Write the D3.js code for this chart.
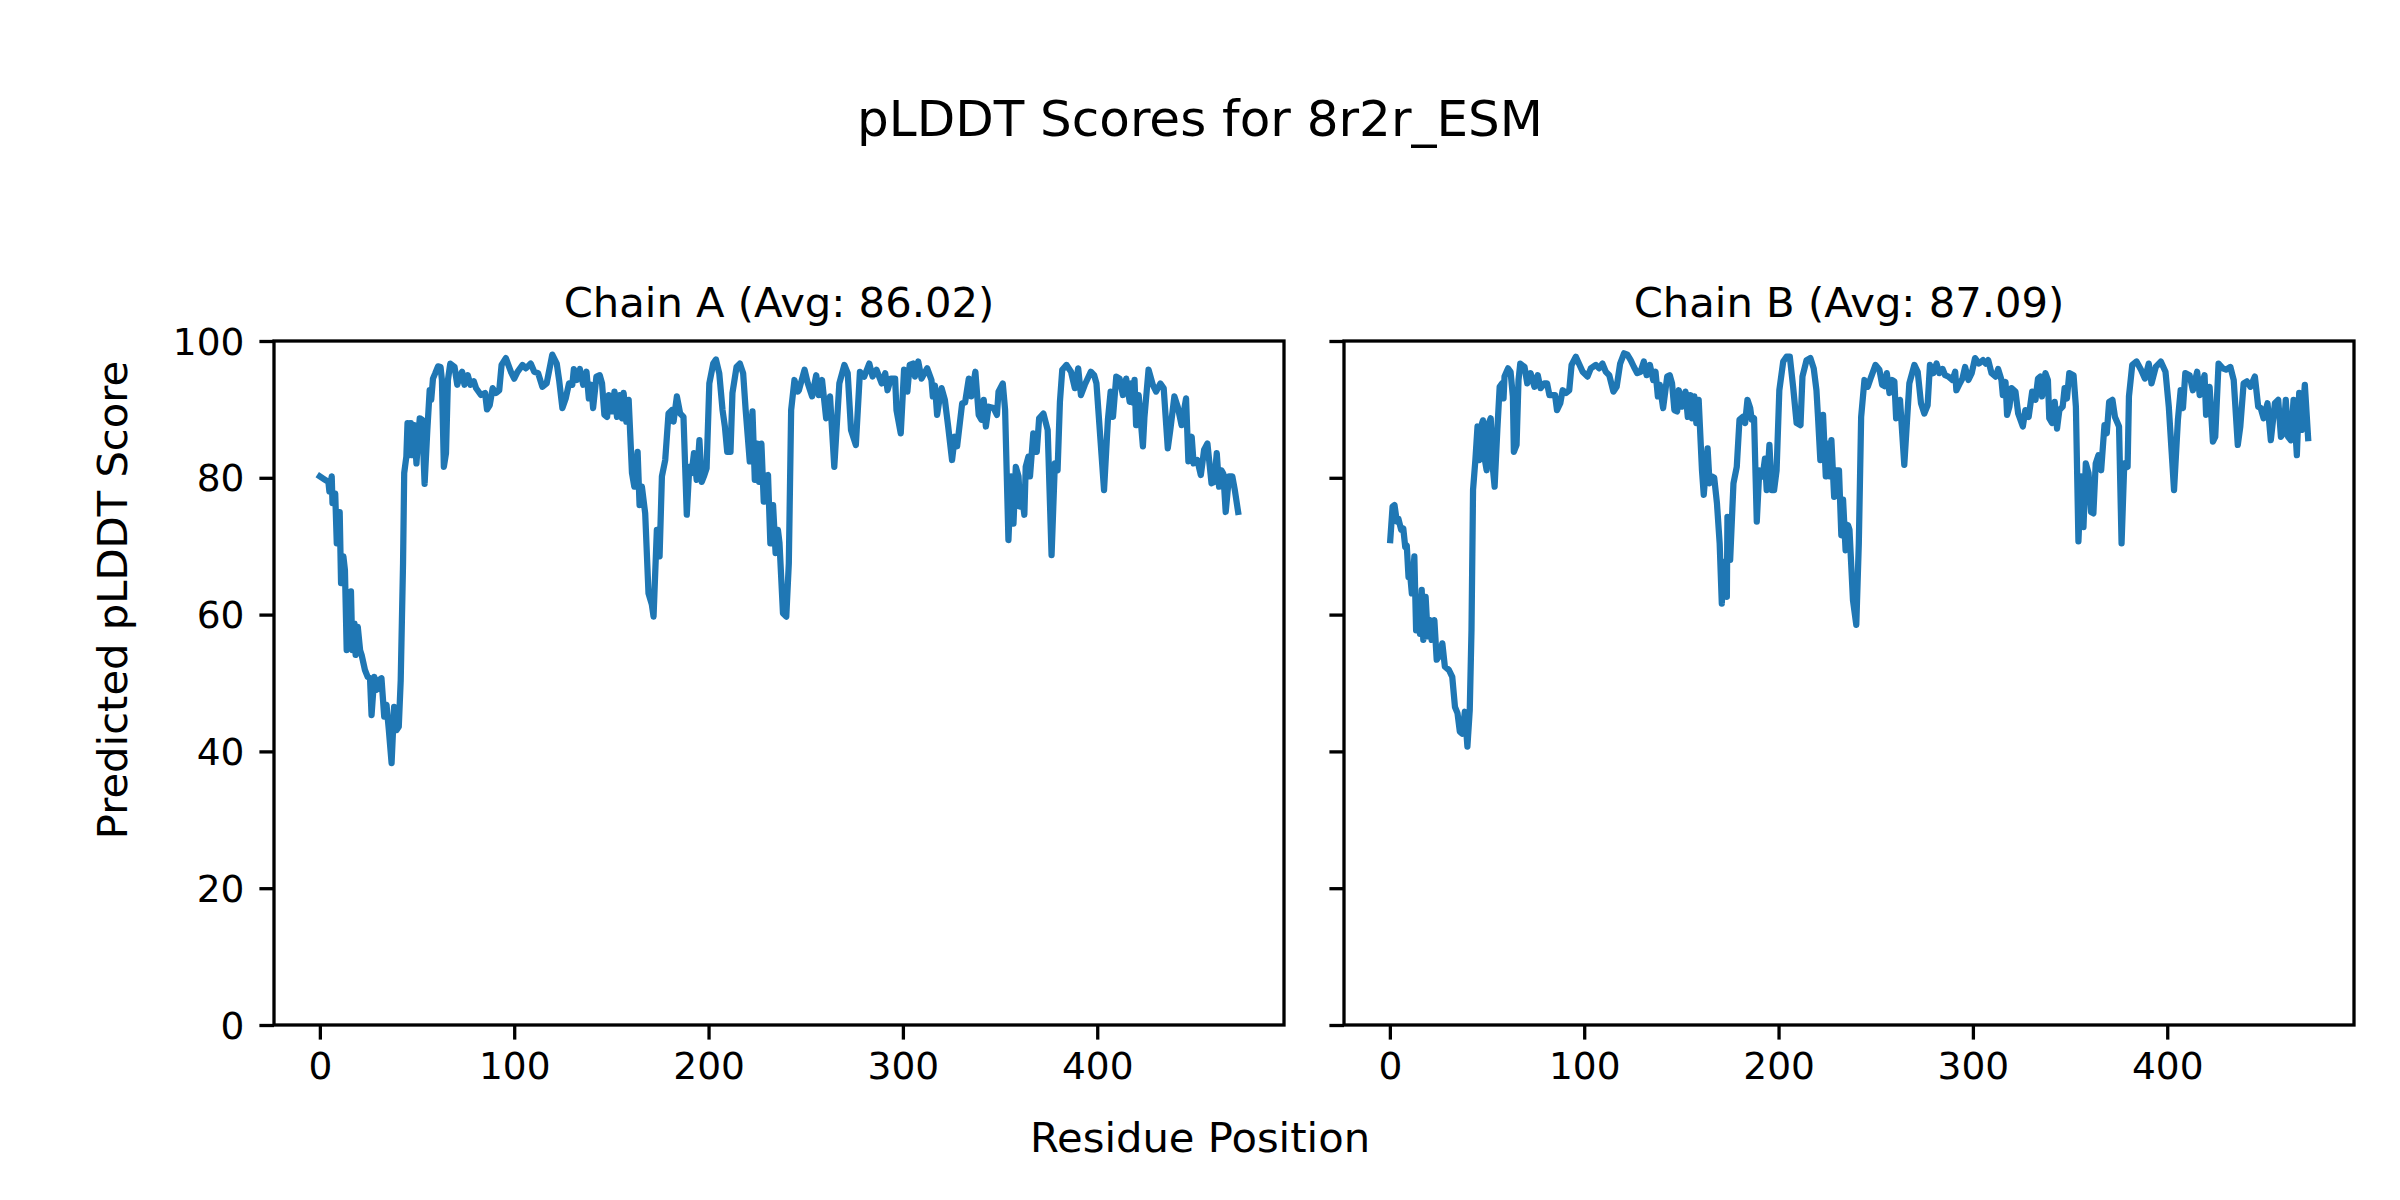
<!DOCTYPE html>
<html><head><meta charset="utf-8">
<script src="https://cdn.jsdelivr.net/npm/d3@7/dist/d3.min.js"></script>
<style>html,body{margin:0;padding:0;background:#fff;}svg{display:block;}</style>
</head><body>
<svg id="chart" width="2400" height="1200"></svg>
<script>
const figTitle = "pLDDT Scores for 8r2r_ESM";
const chainTitles = ["Chain A (Avg: 86.02)", "Chain B (Avg: 87.09)"];
const xLabel = "Residue Position";
const yLabel = "Predicted pLDDT Score";
const xTicks = [0, 100, 200, 300, 400];
const yTicks = [0, 20, 40, 60, 80, 100];

const posA = [0,2.7,4.4,4.9,6.1,6.5,7.9,8.7,9.6,10.2,10.9,12.1,12.9,13.8,14.8,16,16.7,17.8,18.4,19.5,20.7,21.5,23.2,24.6,25.8,26.6,28,29.2,30.4,31.7,33.1,34.3,35.5,36.9,38.2,39.4,40.6,41.6,42.8,43.4,44.5,45.1,45.7,46.8,47.6,48.5,49.7,50.5,51.4,52.6,53.9,55.3,56.5,57.3,58.2,59.4,60.8,62.1,62.8,63.8,64.9,65.9,67.1,69.3,70.7,71.9,73.2,74.4,76.1,77.5,79.2,80.4,82.9,85,86,87.4,88.9,90.6,92.3,93.5,95.7,98.3,100,101.7,104.3,106,108.5,110.3,112.3,114.5,116.7,119.6,121.9,123.1,124.8,126.5,128.2,129.9,130.7,132.1,133.8,135.5,137.2,138.4,139.6,140.6,142.3,144,145.2,146.4,147.8,148.7,150.4,151.6,152.9,154.3,155.5,156.3,157.7,158.9,160.6,161.8,163.5,164.5,165.7,167.4,169.1,170.8,171.7,173.4,174.8,176,177.7,179.4,181.1,182,183.7,185.4,187.1,188.8,190.1,191.3,192.5,193.9,195.3,196.5,197.6,199,200.4,202.4,203.8,205.5,207.2,208.4,209.6,211.3,212.3,214.4,216.1,217.8,219.1,221.2,222.6,223.8,225,226,227.2,228.4,229.4,230.6,231.8,233.2,234.5,235.7,236.5,238.3,240,241.3,242.5,244.2,245.9,246.5,249.4,251.1,253.3,255.4,256.7,258.4,260.5,262.5,264.7,267.3,269.9,271.6,273.3,275.8,277.9,280.1,282.7,284.4,286.4,289.1,290.9,292.1,293.8,296,296.7,298.9,300.6,302.3,303.5,305.2,306.2,307.9,309.6,312.5,314.7,315.4,316.5,317.6,318.8,319.9,321.6,323.3,325.3,326.7,327.9,330.5,332,333.9,335.2,337.3,339,340.4,341.6,342.7,344.1,346.7,348.4,349.2,351.4,352.6,354.3,355.7,356.9,358.1,359.5,360.3,361.2,362.5,363.2,364.6,365.4,367.1,368.9,370.1,372.3,374.5,376.5,378.2,379.6,380.8,382,384.2,386.5,388.5,390.2,391.6,393.6,396.7,398.4,399.6,403.5,405.5,406.9,408.1,409.8,411.5,413.2,414.9,416.7,417.5,418.4,419.2,420,421.3,423.5,424.3,426.4,428.6,430.3,432.5,434.2,436.3,437.6,439.7,441.4,443.4,445.7,446.9,448.6,449.6,451.5,453.3,455,456.7,458.8,460.2,461.5,462.7,463.9,464.9,466.1,467.8,469.5,470.8,472.5];
const scoreA = [80.2,79.7,79.4,78,80.2,76.3,77.7,70.4,75,75,64.6,68.5,66.5,54.8,56,63.4,54.8,58.7,54.1,58.2,54.8,54.1,51.9,50.9,50.7,45.3,50.9,49,50.4,50.7,45.1,46.8,43.1,38.3,46.5,43.1,43.6,50.4,67.5,80.7,83.1,88,83.3,88,83.3,87.7,82.1,85.5,88.7,88.5,79.1,87,92.8,91.4,94.5,95.3,96.3,96.2,94.3,81.6,83.6,94.3,96.7,96.2,93.6,94.8,95.5,93.6,95,93.6,94.1,93.1,92.1,92.4,90,90.6,93.1,92.4,92.8,96.5,97.5,95.5,94.5,95.5,96.5,96,96.7,95.5,95.3,93.3,93.8,98,96.7,94.3,90.2,91.6,93.8,93.6,95.9,94.3,95.9,93.6,95.5,91.6,93.6,90.2,94.8,95,93.8,89.2,88.9,92.1,89.7,92.6,88.9,92.1,88.7,92.4,88.2,91.4,80.7,78.7,83.8,76,78.7,74.8,63.1,61.5,59.7,72.4,68.5,80.2,82.6,89.4,89.9,88.2,91.9,89.4,88.9,74.6,81.6,80.7,83.6,79.7,85.5,79.4,80.2,81.4,93.8,96.7,97.3,95.3,89.9,87.5,83.8,83.8,92.4,96.2,96.7,95.3,89.9,82.4,89.7,79.7,85,79.4,85,76.5,80.2,80.4,70.4,76,69,72.4,70.5,60.2,59.7,67.5,89.9,94.3,92.6,92.8,95.8,93.8,91.9,95,92.1,94.3,88.7,91.9,81.6,93.8,96.5,95.3,87,84.8,95.5,94.8,96.7,94.8,95.8,93.8,95.3,92.8,94.5,94.5,89.9,86.5,95.8,92.6,96.5,96.7,94.8,97,94.5,96,94.3,91.9,93.5,89.2,91.4,93.1,91.4,87.5,82.6,86,84.6,90.9,91,94.5,91.9,95.5,89.2,88.5,91.4,87.5,90.4,90.2,89.2,92.6,93.8,89.9,70.9,80.2,73.3,81.6,80.2,75.8,77.5,74.6,81.6,83.1,80.2,86.5,83.8,88.7,89.4,87,68.7,82.1,81.1,91.1,95.8,96.5,95.5,93.1,96,92.1,93.6,95.5,95,93.8,78.2,88.5,92.6,88.9,94.8,94.5,92.1,94.5,91.1,93.8,91,94.3,87.7,92.1,84.6,88.9,95.8,93.6,92.6,93.8,93.1,84.3,87,91.9,90.4,87.7,91.6,82.4,86,82.1,82.6,80.4,84.1,85,79.2,79.4,83.6,78.7,81.1,80.6,75,80.2,80.2,78.2,75];

const posB = [0.2,1.4,2.4,3.6,4.4,5.8,6.9,7.9,8.7,9.6,10.4,11.3,12.6,13.5,14.7,15.5,16.4,17.2,18.4,19.5,20.7,21.5,22.9,24.1,25.3,27,28.3,30.4,32.1,33.5,34.8,36,37.2,38.6,39.9,41.1,42,42.8,44,45.1,46,47.1,47.9,48.8,49.8,50.9,51.9,53.1,53.9,55.3,56.5,57.7,58.5,59,60.8,62.1,63.3,63.8,65.2,66.2,67.1,69.3,70.7,72.4,74.4,76.1,77.5,79.5,80.9,82.1,85,86,87.7,88.9,90.6,92.3,93.5,95.7,99.2,101.7,103.4,106,107.7,109.4,111.1,112.9,115,116.7,118.5,120.5,122.2,123.9,125.6,127.3,129,130.7,132.1,133.8,135.5,136.7,137.9,138.9,140.6,142.7,144,145.2,146.4,147.8,148.7,150.4,152.1,153.3,154.6,155.5,156.7,157.7,158.9,160.6,161.5,162.8,163.5,164.5,165.7,166.9,168.3,169.7,170.8,172,173.4,173.7,175.1,176.8,178.5,179.9,181.6,182.8,184,185.4,186.2,187.4,188.8,190.1,191.8,193,193.9,195.3,196.5,197.7,199,200.4,202.4,204.1,205.8,207.5,209.3,211.3,212.3,214.4,216.4,218.1,219.5,220.3,221.5,222.9,224.3,225.5,226.3,227.2,228.6,229.8,231.1,232.3,233.2,234.5,235.7,236.5,238.3,240,241.3,242.5,244.2,245.9,247.7,249.9,251.9,253.3,254.5,255.7,257.1,258.4,259.6,260.5,262.5,264.7,267.3,269.9,271.6,273.3,275,276.7,277.9,279.6,281.3,282.7,284.4,285.7,287.4,289.5,290.9,291.5,292.9,294.6,296,297.7,299.4,301.1,303.1,305.2,306.6,307.9,309.6,311.7,313,314.7,315.4,316.8,317.6,318.8,319.9,321.9,323.3,325.7,327,328.7,330.5,332.2,333.5,334.7,335.6,337.3,338.6,339.3,340.7,342.1,343.3,344.5,346.2,347.2,348.4,349.6,351.8,353,354.3,355.7,356.9,358.1,359.5,360.8,362,363.2,364.6,366,367.7,368.9,370.1,371.8,373.1,375.2,376.5,377.9,379.6,380.3,382,384.2,386.5,388.5,390.5,391.9,394.1,396.7,399.1,400.8,403.5,405.5,406.9,408.1,409.3,411.5,413.2,415.4,416.7,417.9,419.2,420,421.8,423.5,424.7,426.4,428.6,430.3,432.5,434.2,436.3,437.6,439.3,441,442.8,445.1,446.8,448.1,449.6,451.6,453.3,455.4,457.1,458.5,459.8,461,462.2,463.6,465,466.7,467.9,469.2,470.8,472.5];
const scoreB = [70.9,75.8,76,73.6,74,72.4,72.6,69.9,70.1,65.5,66,63.1,68.5,57.7,62.6,57.2,63.6,56.3,62.6,56.8,59.2,56.3,59.2,53.4,53.9,55.8,52.4,51.9,50.9,46.5,45.6,42.9,42.6,45.8,40.7,46,57.7,78.2,82.6,87.5,82.6,87.7,88.4,82.8,81.1,88,88.7,81.1,78.7,87,93.3,93.8,91.6,94.8,96,95.5,91.9,83.8,84.8,94.3,96.7,96.2,93.8,95.3,93.3,95,93.1,93.8,93.8,92.1,92.1,89.9,90.9,92.8,92.4,92.8,96.5,97.7,95.5,94.8,96,96.5,96,96.7,95.5,95,92.6,93.3,96.7,98.2,98,97.2,96.2,95.3,95.5,97,95,96.5,94.3,95.5,91.9,93.6,90.2,94.8,95,93.8,89.9,89.7,92.8,90.4,92.6,88.9,92.1,88.7,91.9,88,91.4,81.1,77.5,82,84.3,79.2,80.2,80,76.3,70.4,61.6,67.7,62.6,74.3,68,79.2,81.6,88.5,88.9,88,91.4,90.2,88.5,88.7,73.6,81.1,80.2,82.8,78.2,84.8,78.2,78.2,81.1,92.8,97,97.7,97.7,93.3,88,87.7,94.8,97.2,97.5,96,92.8,88.9,82.6,89.2,80.2,85,80.2,85.5,77.2,81.1,81.1,71.6,76.8,69.4,73.1,72.4,62.1,58.5,70.4,88.9,94.3,93.3,94.8,96.5,95.8,93.6,93.4,95.3,92.4,94.3,94.1,88.7,91.4,81.9,93.8,96.5,95.5,90.9,89.4,90.6,96.5,95.3,96.7,95.3,95.9,95,94.8,94.3,95.5,92.8,93.6,94.5,96.2,94.3,95.3,97.5,96.7,97.2,96.7,97.2,95.3,94.8,95.9,94.3,92.1,94,89.2,90.4,93.1,92.6,89.4,87.5,89.9,88.9,92.6,91.4,94.5,94.8,91.9,95.3,94.3,88.7,88,91.1,87.2,89.9,90.4,93.1,91.6,95.3,95,90.4,70.7,80.2,72.8,82.1,80.7,75,74.8,82.1,83.3,81.1,87.7,86.5,91.1,91.4,88.9,87.5,70.4,82.1,81.6,91.9,96.5,97,95.8,94.5,96.7,93.8,96.2,97,95.5,90.4,78.2,88.5,92.8,90.2,95.3,95,92.8,95.5,92.1,93.8,95,89.2,93.3,85.3,86,96.7,96,95.8,96.2,94.3,84.8,87.5,93.8,94.1,93.3,94.8,90.4,90.2,88.7,90.9,85.5,90.9,91.4,86,86.5,91.4,86,85.5,91.4,83.3,92.4,87,93.6,85.8];

const chains = [
  {title: chainTitles[0], pos: posA, score: scoreA, left: 274, showYLabels: true},
  {title: chainTitles[1], pos: posB, score: scoreB, left: 1344, showYLabels: false}
];

const svg = d3.select("#chart");
const FONT = "'DejaVu Sans', sans-serif";
const panelW = 1010, plotTop = 341, plotBottom = 1025;
const lineColor = "#1f77b4";

svg.append("rect").attr("width", 2400).attr("height", 1200).attr("fill", "#fff");

const yScale = d3.scaleLinear().domain([0, 100]).range([plotBottom, plotTop]);

chains.forEach(c => {
  const x = d3.scaleLinear().domain([-23.6, 496.1]).range([c.left, c.left + panelW]);
  const g = svg.append("g");
  const line = d3.line().x((d, i) => x(c.pos[i])).y(d => yScale(d));
  g.append("path").datum(c.score)
    .attr("d", line).attr("fill", "none").attr("stroke", lineColor)
    .attr("stroke-width", 6.25).attr("stroke-linejoin", "round").attr("stroke-linecap", "square");

  const xAxis = d3.axisBottom(x).tickValues(xTicks).tickSize(14.6).tickPadding(13).tickFormat(d3.format("d"));
  const gx = g.append("g").attr("transform", `translate(0,${plotBottom})`).call(xAxis);
  const yAxis = d3.axisLeft(yScale).tickValues(yTicks).tickSize(14.6).tickPadding(15)
    .tickFormat(c.showYLabels ? d3.format("d") : () => "");
  const gy = g.append("g").attr("transform", `translate(${c.left},0)`).call(yAxis);
  [gx, gy].forEach(ax => {
    ax.select(".domain").remove();
    ax.selectAll(".tick line").attr("stroke", "#000").attr("stroke-width", 3.3);
    ax.selectAll(".tick text").attr("font-family", FONT).attr("font-size", 37.5).attr("fill", "#000");
  });
  gy.selectAll(".tick text").attr("dy", "0.35em");
  gx.selectAll(".tick text").attr("dy", "0.71em");

  g.append("rect").attr("x", c.left).attr("y", plotTop).attr("width", panelW).attr("height", plotBottom - plotTop)
    .attr("fill", "none").attr("stroke", "#000").attr("stroke-width", 3.3);

  g.append("text").attr("x", c.left + panelW / 2).attr("y", 317)
    .attr("text-anchor", "middle").attr("font-family", FONT).attr("font-size", 41.7).attr("fill", "#000")
    .text(c.title);
});

svg.append("text").attr("x", 1200).attr("y", 136).attr("text-anchor", "middle")
  .attr("font-family", FONT).attr("font-size", 50).attr("fill", "#000").text(figTitle);
svg.append("text").attr("x", 1200).attr("y", 1152).attr("text-anchor", "middle")
  .attr("font-family", FONT).attr("font-size", 41.7).attr("fill", "#000").text(xLabel);
svg.append("text").attr("transform", "translate(127,600) rotate(-90)").attr("text-anchor", "middle")
  .attr("font-family", FONT).attr("font-size", 41.7).attr("fill", "#000").text(yLabel);
</script>
</body></html>
